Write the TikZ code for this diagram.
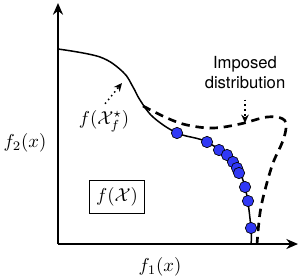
\documentclass[tikz,border=0pt]{standalone}
\usepackage{fontspec}
\newfontfamily\helv{TeX Gyre Heros}
\usetikzlibrary{arrows.meta,positioning}
\definecolor{dotblue}{RGB}{48,56,245}

\tikzset{
  axis/.style={line width=1.3pt,-{Stealth[length=7pt,width=6pt]}},
  front/.style={line width=0.9pt},
  imposed/.style={line width=1.6pt,dash pattern=on 5pt off 3.5pt},
  pointer/.style={line width=0.9pt,dotted,-{Stealth[length=5pt,width=4.5pt]}},
  sol/.style={circle,draw=black,line width=0.4pt,fill=dotblue,inner sep=0pt,minimum size=6.8pt},
  mlabel/.style={scale=1.12},
}

\begin{document}
\begin{tikzpicture}[x=0.6pt,y=-0.6pt]
\useasboundingbox (0,0) rectangle (302,278);
% axes
\coordinate (O) at (58,244);
\draw[axis] (O)--(58,3);
\draw[axis] (O)--(298,244);
\node[mlabel] (f2) at (25,143) {$f_2(x)$};
\node[mlabel] (f1) at (160,267) {$f_1(x)$};
% feasible set
\node[draw,line width=0.5pt,minimum width=33pt,minimum height=19.8pt] (fX) at (117,197) {\scalebox{1.12}{$f(\mathcal{X})$}};
% pareto front
\draw[front] plot[smooth,tension=0.6] coordinates {(58,49) (100,57) (123,72) (133,87) (140,100) (153,117) (177,133) (207,142) (233,162) (245,187) (251,228) (251,244)};
% imposed distribution
\draw[imposed] plot[smooth,tension=0.6] coordinates {(143,106) (167,118) (187,125) (213,128) (240,124) (267,117) (283,119) (286,128) (282,143) (273,163) (265,190) (260,213) (257,244)};
% solutions
\foreach \x/\y [count=\i] in {177/133,207/142,219/150,227/155,233/162,237/168,239/173,245/187,248/201,251/228}
  \node[sol] (p\i) at (\x,\y) {};
% labels
\node[mlabel,inner sep=2.5pt] (fstar) at (104,121) {$f(\mathcal{X}_f^{\star})$};
\coordinate (fstartip) at (122,83);
\draw[pointer,shorten <=1pt] (fstar.north)--(fstartip);
\node[align=center,inner sep=3pt,font=\helv\fontsize{10}{12}\selectfont] (impl) at (245,73) {Imposed\\distribution};
\coordinate (imptip) at (245,123);
\draw[pointer,shorten <=3pt] (impl.south)--(imptip);
\end{tikzpicture}
\end{document}
